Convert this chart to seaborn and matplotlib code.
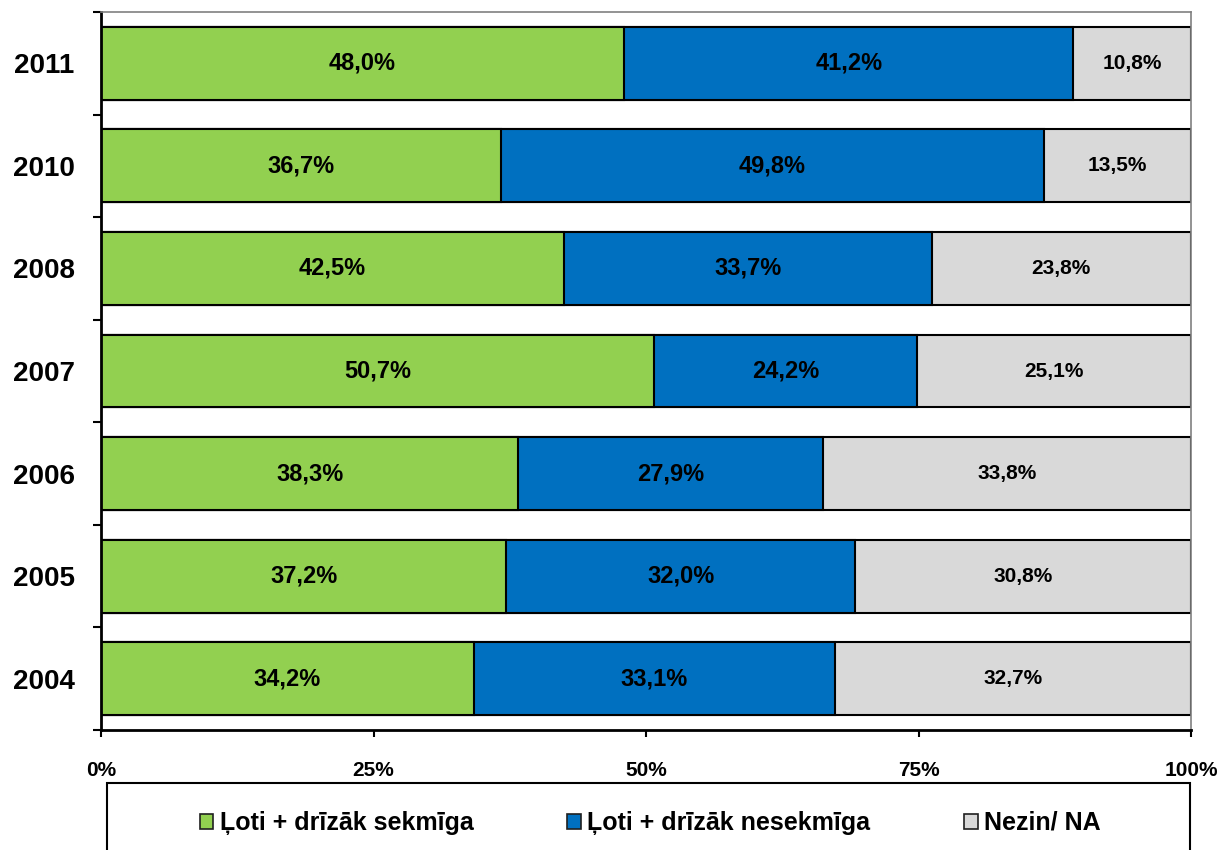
import matplotlib
matplotlib.use("Agg")
import matplotlib.pyplot as plt
import seaborn as sns
import pandas as pd
import numpy as np
from matplotlib.patches import Rectangle, Patch

years = ["2011", "2010", "2008", "2007", "2006", "2005", "2004"]
successful = [48.0, 36.7, 42.5, 50.7, 38.3, 37.2, 34.2]
unsuccessful = [41.2, 49.8, 33.7, 24.2, 27.9, 32.0, 33.1]
dont_know = [10.8, 13.5, 23.8, 25.1, 33.8, 30.8, 32.7]
series_names = ["Ļoti + drīzāk sekmīga", "Ļoti + drīzāk nesekmīga", "Nezin/ NA"]
x_ticks = [0, 25, 50, 75, 100]
x_tick_labels = ["0%", "25%", "50%", "75%", "100%"]

colors = ["#92D050", "#0070C0", "#D9D9D9"]

sns.set_theme(style="white")
plt.rcParams["font.family"] = ["Liberation Sans", "DejaVu Sans"]
plt.rcParams["font.weight"] = "bold"
plt.rcParams["text.color"] = "black"
plt.rcParams["xtick.color"] = "black"
plt.rcParams["ytick.color"] = "black"
plt.rcParams["xtick.labelcolor"] = "black"
plt.rcParams["ytick.labelcolor"] = "black"

df = pd.DataFrame({
    "year": years,
    "s1": successful,
    "s2": unsuccessful,
    "s3": dont_know,
})
df["c1"] = df["s1"]
df["c2"] = df["s1"] + df["s2"]
df["c3"] = df["s1"] + df["s2"] + df["s3"]

fig = plt.figure(figsize=(12.21, 8.5), dpi=100)
ax = fig.add_axes([101 / 1221, 1 - 730 / 850, (1191 - 101) / 1221, (730 - 12) / 850])

bar_w = 0.71
for col, color in zip(["c3", "c2", "c1"], colors[::-1]):
    sns.barplot(data=df, x=col, y="year", order=years, color=color, width=bar_w,
                edgecolor="black", linewidth=1.5, saturation=1, ax=ax, orient="h")

# labels
for i, yr in enumerate(years):
    vals = [successful[i], unsuccessful[i], dont_know[i]]
    left = 0
    for j, v in enumerate(vals):
        cx = left + v / 2
        fs = 17 if j < 2 else 15
        ax.text(cx, i, f"{v:.1f}%".replace(".", ","), ha="center", va="center",
                fontsize=fs, fontweight="bold", color="black")
        left += v

ax.set_xlim(0, 100)
ax.set_ylim(len(years) - 0.5, -0.5)
ax.set_xlabel("")
ax.set_ylabel("")
ax.set_xticks(x_ticks)
ax.set_xticklabels(x_tick_labels, fontsize=15, fontweight="bold", color="black")
ax.set_yticks(range(len(years)))
ax.set_yticklabels(years, fontsize=20, fontweight="bold", color="black")
ax.set_yticks(np.arange(-0.5, len(years), 1.0), minor=True)
ax.tick_params(axis="y", which="major", length=0, pad=19)
ax.tick_params(axis="y", which="minor", length=6, width=1.5, color="black", direction="out", left=True)
ax.tick_params(axis="x", which="major", length=5, width=1.5, color="black", direction="out", bottom=True, pad=17)

for side in ["left", "bottom"]:
    ax.spines[side].set_color("black")
    ax.spines[side].set_linewidth(2)
for side in ["top", "right"]:
    ax.spines[side].set_color("#808080")
    ax.spines[side].set_linewidth(1.2)

# legend box
fig.patches.append(Rectangle((107 / 1221, 1 - 870 / 850), (1190 - 107) / 1221, (870 - 783) / 850,
                             transform=fig.transFigure, facecolor="white", edgecolor="black",
                             linewidth=1.5, zorder=0))
handles = [Patch(facecolor=c, edgecolor="#202020", linewidth=1.2) for c in colors]
leg = fig.legend(handles, series_names, loc="center", bbox_to_anchor=(650 / 1221, 1 - 823 / 850),
                 ncol=3, frameon=False, prop={"size": 18, "weight": "bold"},
                 handlelength=0.55, handleheight=0.55, handletextpad=0.25, columnspacing=3.75)
for t in leg.get_texts():
    t.set_color("black")

fig.savefig("out.png", dpi=100)
